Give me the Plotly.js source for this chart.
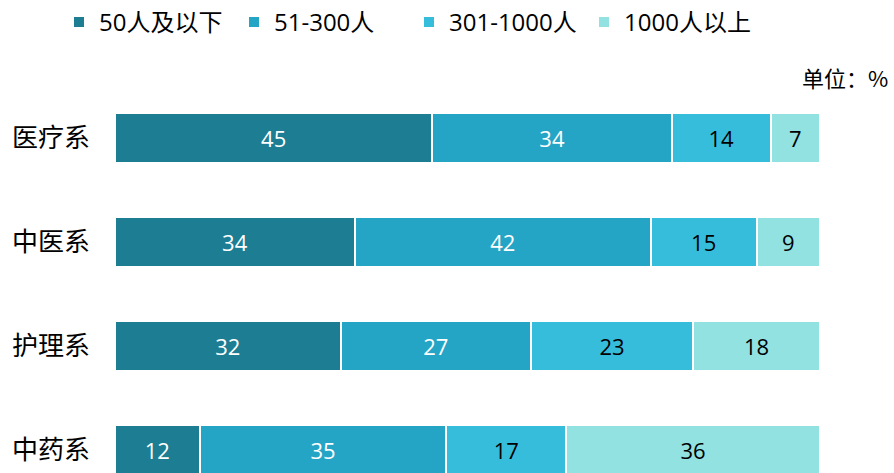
<!DOCTYPE html>
<html>
<head>
<meta charset="utf-8">
<script src="https://cdn.plot.ly/plotly-3.0.1.min.js"></script>
<style>html,body{margin:0;padding:0;background:#fff;}#chart{width:894px;height:473px;}</style>
</head>
<body>
<div id="chart"></div>
<script>
const categories = ['医疗系', '中医系', '护理系', '中药系'];
const seriesNames = ['50人及以下', '51-300人', '301-1000人', '1000人以上'];
const s1 = [45, 34, 32, 12];
const s2 = [34, 42, 27, 35];
const s3 = [14, 15, 23, 17];
const s4 = [7, 9, 18, 36];
const colors = ['#1c7d93', '#25a5c6', '#37bddc', '#91e2e1'];
const textColors = ['#ffffff', '#ffffff', '#000000', '#000000'];
const seriesValues = [s1, s2, s3, s4];

const font = '"Open Sans", "Noto Sans CJK SC", sans-serif';
const traces = seriesValues.map((vals, i) => ({
  type: 'bar',
  orientation: 'h',
  name: seriesNames[i],
  y: categories,
  x: vals,
  text: vals.map(String),
  textposition: 'inside',
  insidetextanchor: 'middle',
  textangle: 0,
  insidetextfont: {color: textColors[i], size: 22, family: font},
  marker: {color: colors[i], line: {color: '#ffffff', width: 2}},
  width: 0.48,
  hoverinfo: 'none'
}));

const layout = {
  width: 894, height: 473,
  barmode: 'stack',
  margin: {l: 115, r: 74, t: 86, b: 0},
  paper_bgcolor: '#ffffff',
  plot_bgcolor: '#ffffff',
  font: {family: font, color: '#000000'},
  showlegend: true,
  legend: {
    orientation: 'h',
    xref: 'container', x: 0.066, xanchor: 'left',
    yref: 'container', y: 1, yanchor: 'top',
    font: {size: 24, family: font, color: '#000000'},
    itemwidth: 30,
    entrywidth: 130,
    entrywidthmode: 'pixels',
    traceorder: 'normal'
  },
  xaxis: {
    range: [0, 100],
    showgrid: false, zeroline: false, showline: false,
    showticklabels: false, ticks: '', fixedrange: true
  },
  yaxis: {
    type: 'category',
    categoryorder: 'array', categoryarray: categories,
    range: [3.221, -0.5],
    showgrid: false, zeroline: false, showline: false,
    ticks: '',
    ticklabelstandoff: 24,
    tickfont: {size: 26, family: '"Noto Sans CJK SC", sans-serif', color: '#000000'}
  },
  annotations: [{
    text: '单位：%',
    xref: 'paper', yref: 'paper',
    x: 1, xshift: 70, xanchor: 'right',
    y: 1, yshift: 9, yanchor: 'middle',
    showarrow: false,
    font: {size: 22, family: '"Noto Sans CJK SC", sans-serif', color: '#000000'}
  }]
};

Plotly.newPlot('chart', traces, layout, {displayModeBar: false, staticPlot: true});
</script>
</body>
</html>
